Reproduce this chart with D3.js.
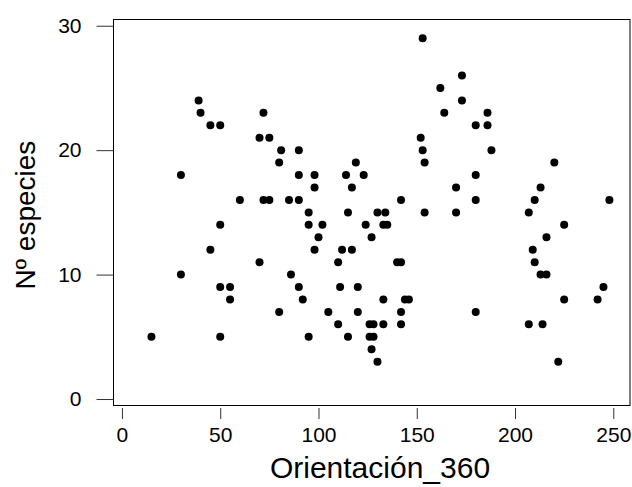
<!DOCTYPE html>
<html>
<head>
<meta charset="utf-8">
<script src="https://cdn.jsdelivr.net/npm/d3@7"></script>
<style>
  html, body { margin: 0; padding: 0; background: #fff; }
  svg { display: block; }
  text { font-family: "Liberation Sans", Arial, sans-serif; fill: #000; }
</style>
</head>
<body>
<svg id="chart" width="632" height="487"></svg>
<script>
// ---- data ----
const orientation = [
  15, 30, 30, 39, 40, 45, 45, 50, 50, 50, 50, 55, 55, 60,
  70, 70, 72, 72, 75, 75, 80, 80, 81, 85, 86, 90, 90, 90, 90, 92,
  95, 95, 95, 98, 98, 98, 100, 102, 105, 110, 110, 111, 112,
  114, 115, 115, 117, 117, 119, 120, 120, 123, 124, 126, 126, 127, 127, 128, 128,
  130, 130, 133, 133, 133, 134, 135, 140, 142, 142, 142, 142, 144, 146,
  152, 153, 153, 154, 154, 162, 164, 170, 170, 173, 173, 180, 180, 180, 180,
  186, 186, 188, 207, 207, 209, 210, 210, 213, 213, 214, 216, 216, 220, 222,
  225, 225, 242, 245, 248
];
const species = [
  5, 18, 10, 24, 23, 22, 12, 22, 14, 9, 5, 9, 8, 16,
  21, 11, 23, 16, 21, 16, 19, 7, 20, 16, 10, 20, 18, 16, 9, 8,
  15, 14, 5, 18, 17, 12, 13, 14, 7, 11, 6, 9, 12,
  18, 15, 5, 17, 12, 19, 9, 7, 18, 14, 6, 5, 13, 4, 6, 5,
  15, 3, 14, 8, 6, 15, 14, 11, 16, 11, 7, 6, 8, 8,
  21, 29, 20, 19, 15, 25, 23, 17, 15, 26, 24, 22, 18, 16, 7,
  23, 22, 20, 15, 6, 12, 16, 11, 17, 10, 6, 13, 10, 19, 3,
  14, 8, 8, 9, 16
];
const xTicks = [0, 50, 100, 150, 200, 250];
const yTicks = [0, 10, 20, 30];
const xTitle = "Orientación_360";
const yTitle = "Nº especies";

// ---- layout ----
const svg = d3.select("#chart");
const box = { left: 113.5, right: 630, top: 19.5, bottom: 405.5 };

const x = d3.scaleLinear().domain([-4.3, 258.5]).range([box.left, box.right]);
const y = d3.scaleLinear().domain([-0.52, 30.5]).range([box.bottom, box.top]);

// frame
svg.append("rect")
  .attr("x", box.left).attr("y", box.top)
  .attr("width", box.right - box.left).attr("height", box.bottom - box.top)
  .attr("fill", "none").attr("stroke", "#000").attr("stroke-width", 1);

// y axis
const yAxis = d3.axisLeft(y).tickValues(yTicks).tickSize(17).tickPadding(15).tickFormat(d3.format("d"));
const gy = svg.append("g").attr("transform", `translate(${box.left},0)`).call(yAxis);
gy.select(".domain").remove();
gy.selectAll(".tick line").attr("stroke", "#333");
gy.selectAll(".tick text").attr("font-size", 21).attr("font-family", "Liberation Sans, Arial, sans-serif").attr("fill", "#000");

// x axis
const xAxis = d3.axisBottom(x).tickValues(xTicks).tickSize(11).tickPadding(8).tickFormat(d3.format("d"));
const gx = svg.append("g").attr("transform", `translate(0,${box.bottom + 2.5})`).call(xAxis);
gx.select(".domain").remove();
gx.selectAll(".tick line").attr("stroke", "#333");
gx.selectAll(".tick text").attr("font-size", 21).attr("font-family", "Liberation Sans, Arial, sans-serif").attr("fill", "#000");

// points
svg.append("g").selectAll("circle")
  .data(orientation.map((o, i) => [o, species[i]]))
  .join("circle")
  .attr("cx", d => x(d[0]))
  .attr("cy", d => y(d[1]))
  .attr("r", 4)
  .attr("fill", "#000");

// titles
svg.append("text")
  .attr("x", 380).attr("y", 478)
  .attr("text-anchor", "middle")
  .attr("font-size", 30)
  .text(xTitle);

svg.append("text")
  .attr("transform", "translate(35,215) rotate(-90)")
  .attr("text-anchor", "middle")
  .attr("font-size", 28)
  .text(yTitle);
</script>
</body>
</html>
